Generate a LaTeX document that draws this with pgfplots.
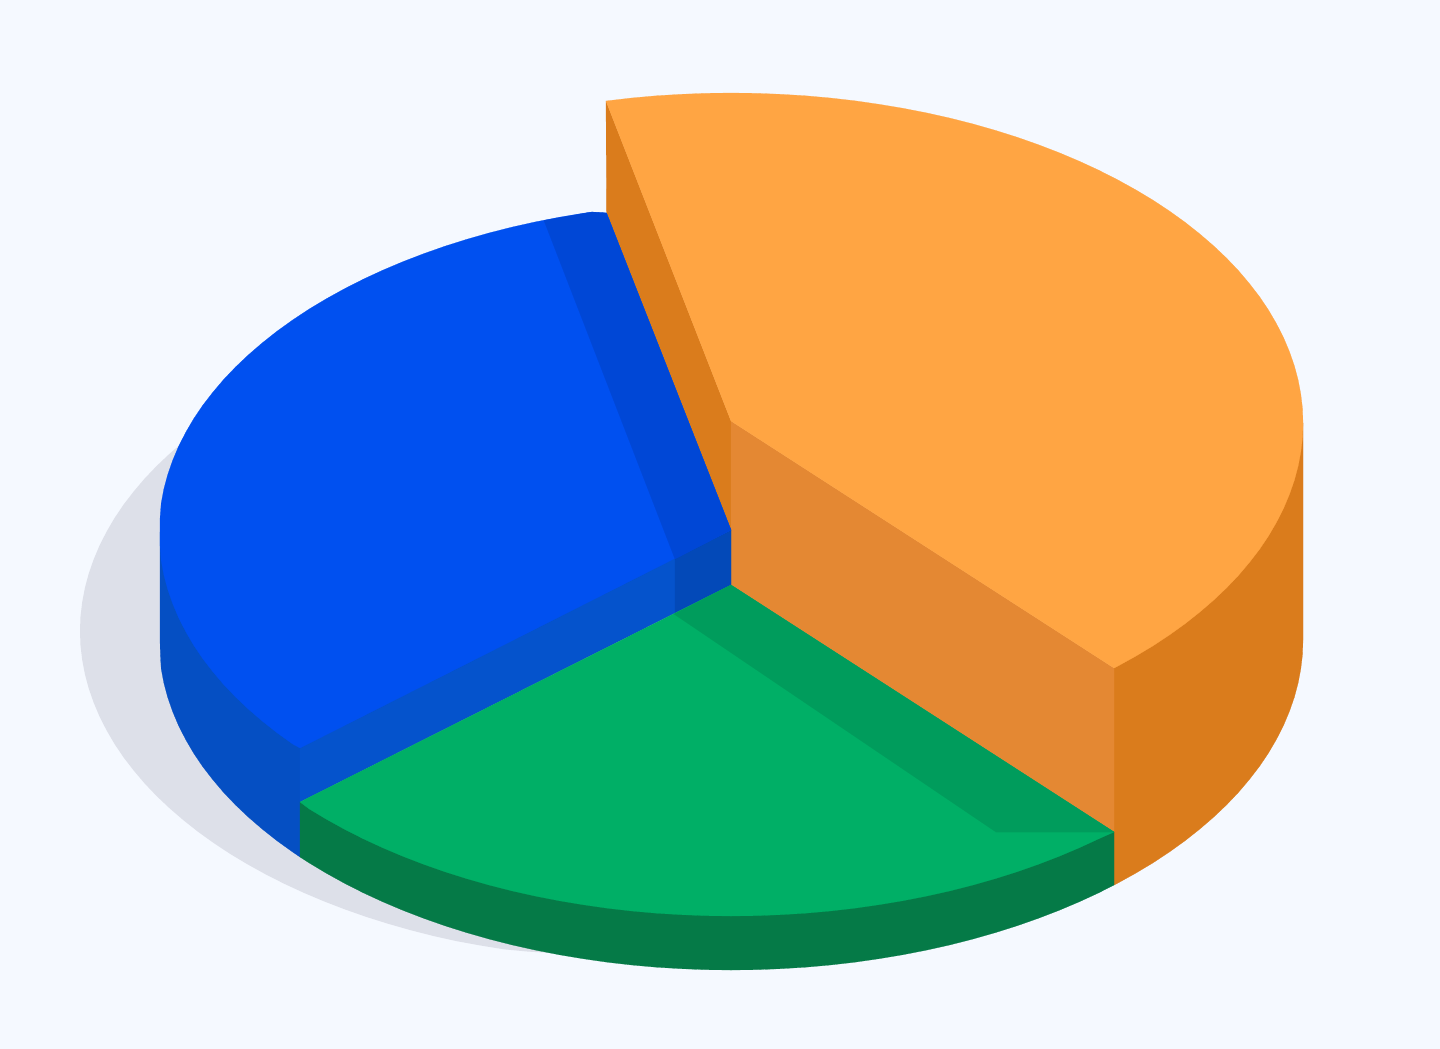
\documentclass[border=0pt]{standalone}
\usepackage{pgfplots}
\pgfplotsset{compat=1.18}
\definecolor{bg}{HTML}{F5F9FF}
\definecolor{shadow}{HTML}{DDE0E9}
\definecolor{orangetop}{HTML}{FFA543}
\definecolor{orangewall}{HTML}{DA7C1C}
\definecolor{orangein}{HTML}{E48833}
\definecolor{bluetop}{HTML}{0050F0}
\definecolor{bluepatch}{HTML}{0047D6}
\definecolor{bluestrip}{HTML}{0349B8}
\definecolor{bluein}{HTML}{0553CC}
\definecolor{bluewall}{HTML}{054FC3}
\definecolor{greentop}{HTML}{00AF66}
\definecolor{greenpatch}{HTML}{009C5C}
\definecolor{greenwall}{HTML}{057A47}
\pgfplotsset{face/.style={fill=#1,draw=#1,line width=0.1pt,line join=round,mark=none}}
\begin{document}
\begin{tikzpicture}
\begin{axis}[
  scale only axis, width=720pt, height=524.5pt,
  xmin=0, xmax=1440, ymin=0, ymax=1049, y dir=reverse,
  hide axis]
% background
\addplot[fill=bg,draw=none,mark=none] coordinates {(0,0)(1440,0)(1440,1049)(0,1049)} --cycle;
% shadow ellipse
\addplot[fill=shadow,draw=none,mark=none] coordinates {
(652,631)(183.4,441.8)(169.6,453.7)(156.6,466)(144.6,478.6)(133.6,491.6)(123.5,504.7)(114.5,518.1)(106.5,531.8)(99.5,545.6)(93.6,559.6)(88.7,573.7)(84.9,587.9)(82.2,602.2)(80.5,616.6)(80,631)
(80.5,645.4)(82.2,659.8)(84.9,674.1)(88.7,688.3)(93.6,702.4)(99.5,716.4)(106.5,730.2)(114.5,743.9)(123.5,757.3)(133.6,770.4)(144.6,783.4)(156.6,796)(169.6,808.3)(183.4,820.2)(198.2,831.9)(213.8,843.1)(230.3,854)(247.5,864.3)(265.6,874.3)(284.3,883.8)(303.8,892.8)(323.9,901.3)(344.7,909.3)(366,916.8)(387.9,923.7)(410.3,930.1)(433.1,935.9)(456.4,941.1)(480,945.4)(504,949.3)(528.2,951.6)(552.7,953)} --cycle;
% orange outer wall
\addplot[face=orangewall] coordinates {
(1303,423)(1303,640)(1302.5,654.4)(1300.8,668.8)(1298.1,683.1)(1294.3,697.3)(1289.4,711.4)(1283.5,725.4)(1276.5,739.2)(1268.5,752.9)(1259.5,766.3)(1249.4,779.4)(1238.4,792.4)(1226.4,805)(1213.4,817.3)(1199.6,829.2)(1184.8,840.9)(1169.2,852.1)(1152.7,863)(1135.5,873.3)(1117.4,883.3)(1114,885)(1114,668)} --cycle;
% orange inner faces
\addplot[face=orangewall] coordinates {(606,101)(731,421)(731,530)(606.5,213)} --cycle;
\addplot[face=orangein] coordinates {(731,421)(1114,668)(1114,832)(731,585)} --cycle;
% blue outer wall
\addplot[face=bluewall] coordinates {
(160,532)(160,640)(160.4,655)(161.2,668.8)(163.9,683.1)(167.7,697.3)(172.6,711.4)(178.5,725.4)(185.5,739.2)(193.5,752.9)(202.5,766.3)(212.6,779.4)(223.6,792.4)(235.6,805)(248.6,817.3)(262.4,829.2)(277.2,840.9)(292.8,852.1)(300,857)(300,748)} --cycle;
% blue inner faces under the top face
\addplot[face=bluein] coordinates {(300,745)(675,556)(675,613)(300,802)} --cycle;
\addplot[face=bluestrip] coordinates {(675,556)(730,528)(731,530)(731,585)(675,613)} --cycle;
% blue top
\addplot[face=bluetop] coordinates {
(731,530)(606.5,213)(592,212)(583,213.3)(559,217.3)(535.4,221.9)(512.1,227.1)(489.3,232.9)(466.9,239.3)(445,246.2)(423.7,253.7)(402.9,261.7)(382.8,270.2)(363.3,279.2)(344.6,288.7)(326.5,298.7)(309.3,309)(292.8,319.9)(277.2,331.1)(262.4,342.8)(248.6,354.7)(235.6,367)(223.6,379.6)(212.6,392.6)(202.5,405.7)(193.5,419.1)(185.5,432.8)(178.5,446.6)(172.6,460.6)(167.7,474.7)(163.9,488.9)(161.2,503.2)(160.1,517.6)(160,532)(160.1,546.4)(161.2,560.8)(163.9,575.1)(167.7,589.3)(172.6,603.4)(178.5,617.4)(185.5,631.2)(193.5,644.9)(202.5,658.3)(212.6,671.4)(223.6,684.4)(235.6,697)(248.6,709.3)(262.4,721.2)(277.2,732.9)(292.8,744.1)(300,748)} --cycle;
\addplot[face=bluepatch] coordinates {(544,220.5)(592,212)(606.5,213)(731,530)(675,559)} --cycle;
% green outer wall
\addplot[face=greenwall] coordinates {
(1114,832)(1114,885)(1098.7,892.8)(1079.2,901.8)(1059.1,910.3)(1038.3,918.3)(1017,925.8)(995.1,932.7)(972.7,939.1)(949.9,944.9)(926.6,950.1)(903,954.7)(879,958.7)(854.8,962.2)(830.3,965)(805.7,967.2)(780.9,968.7)(756,969.7)(731,970)(706,969.7)(681.1,968.7)(656.3,967.2)(631.7,965)(607.2,962.2)(583,958.7)(559,954.7)(535.4,950.1)(512.1,944.9)(489.3,939.1)(466.9,932.7)(445,925.8)(423.7,918.3)(402.9,910.3)(382.8,901.8)(363.3,892.8)(344.6,883.3)(326.5,873.3)(309.3,863)(300,857)(300,802)} --cycle;
% green top
\addplot[face=greentop] coordinates {
(731,585)(1114,832)(1098.7,838.8)(1079.2,847.8)(1059.1,856.3)(1038.3,864.3)(1017,871.8)(995.1,878.7)(972.7,885.1)(949.9,890.9)(926.6,896.1)(903,900.7)(879,904.7)(854.8,908.2)(830.3,911)(805.7,913.2)(780.9,914.7)(756,915.7)(731,916)(706,915.7)(681.1,914.7)(656.3,913.2)(631.7,911)(607.2,908.2)(583,904.7)(559,900.7)(535.4,896.1)(512.1,890.9)(489.3,885.1)(466.9,878.7)(445,871.8)(423.7,864.3)(402.9,856.3)(382.8,847.8)(363.3,838.8)(344.6,829.3)(326.5,819.3)(309.3,809)(300,802)} --cycle;
\addplot[face=greenpatch] coordinates {(731,585)(1114,832)(996,832)(674,614)} --cycle;
% orange top
\addplot[face=orangetop] coordinates {
(731,421)(606,101)(631.7,98)(656.3,95.8)(681.1,94.3)(706,93.3)(731,93)(756,93.3)(780.9,94.3)(805.7,95.8)(830.3,98)(854.8,100.8)(879,104.3)(903,108.3)(926.6,112.9)(949.9,118.1)(972.7,123.9)(995.1,130.3)(1017,137.2)(1038.3,144.7)(1059.1,152.7)(1079.2,161.2)(1098.7,170.2)(1117.4,179.7)(1135.5,189.7)(1152.7,200)(1169.2,210.9)(1184.8,222.1)(1199.6,233.8)(1213.4,245.7)(1226.4,258)(1238.4,270.6)(1249.4,283.6)(1259.5,296.7)(1268.5,310.1)(1276.5,323.8)(1283.5,337.6)(1289.4,351.6)(1294.3,365.7)(1298.1,379.9)(1300.8,394.2)(1302.5,408.6)(1303,423)(1302.5,437.4)(1300.8,451.8)(1298.1,466.1)(1294.3,480.3)(1289.4,494.4)(1283.5,508.4)(1276.5,522.2)(1268.5,535.9)(1259.5,549.3)(1249.4,562.4)(1238.4,575.4)(1226.4,588)(1213.4,600.3)(1199.6,612.2)(1184.8,623.9)(1169.2,635.1)(1152.7,646)(1135.5,656.3)(1117.4,666.3)(1114,668)} --cycle;
\end{axis}
\end{tikzpicture}
\end{document}
